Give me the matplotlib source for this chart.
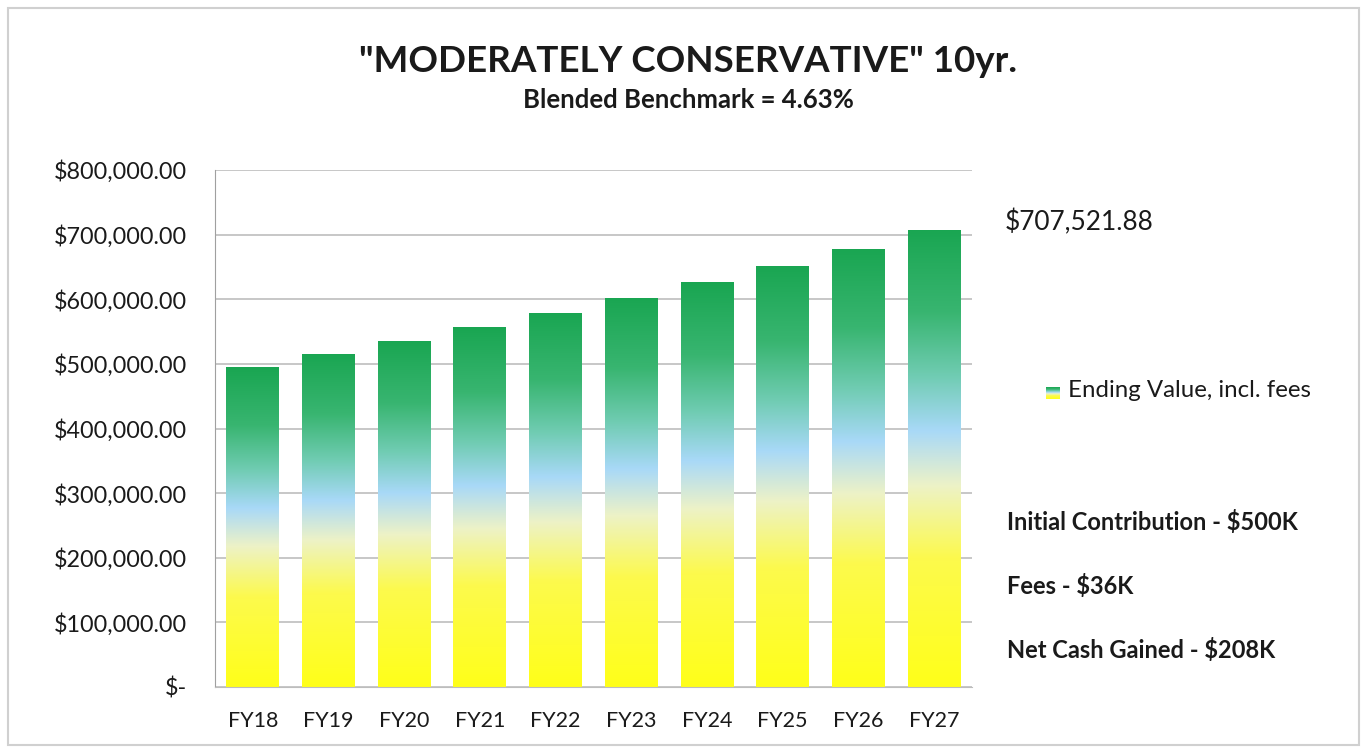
import numpy as np
import matplotlib
matplotlib.use("Agg")
import matplotlib.pyplot as plt
from matplotlib.colors import LinearSegmentedColormap
from matplotlib.patches import Rectangle

categories = ["FY18", "FY19", "FY20", "FY21", "FY22", "FY23", "FY24", "FY25", "FY26", "FY27"]
ending_values = [495000, 515500, 536000, 557000, 579000, 602000, 626000, 651500, 678000, 707521.88]
ytick_values = [0, 100000, 200000, 300000, 400000, 500000, 600000, 700000, 800000]
ytick_labels = ["$-", "$100,000.00", "$200,000.00", "$300,000.00", "$400,000.00",
                "$500,000.00", "$600,000.00", "$700,000.00", "$800,000.00"]
title = '"MODERATELY CONSERVATIVE" 10yr.'
subtitle = "Blended Benchmark = 4.63%"
last_label = "$707,521.88"
legend_label = "Ending Value, incl. fees"
notes = ["Initial Contribution - $500K", "Fees - $36K", "Net Cash Gained - $208K"]

plt.rcParams['font.family'] = ['Lato', 'DejaVu Sans']

fig = plt.figure(figsize=(13.67, 7.47), dpi=100)
W, H = 1367, 747
ax = fig.add_axes([215 / W, 1 - 687 / H, (972 - 215) / W, (687 - 170) / H])

cmap = LinearSegmentedColormap.from_list("grad", [
    (0.00, (1.00, 1.00, 0.10)),
    (0.28, (0.99, 0.98, 0.30)),
    (0.44, (0.93, 0.95, 0.78)),
    (0.56, (0.66, 0.85, 0.97)),
    (0.68, (0.44, 0.80, 0.70)),
    (0.82, (0.22, 0.71, 0.44)),
    (1.00, (0.10, 0.65, 0.32)),
])

x = np.arange(len(categories))
bars = ax.bar(x, ending_values, width=0.7, color='none', edgecolor='none', zorder=2)
grad = np.linspace(0, 1, 256).reshape(-1, 1)
for b in bars:
    x0, y0 = b.get_x(), b.get_y()
    w, h = b.get_width(), b.get_height()
    im = ax.imshow(grad, extent=[x0, x0 + w, y0, y0 + h], origin='lower',
                   cmap=cmap, aspect='auto', zorder=2, interpolation='bilinear')
    im.set_clip_path(b)

ax.set_xlim(-0.5, len(categories) - 0.5)
ax.set_ylim(0, 800000)
ax.set_yticks(ytick_values)
ax.set_yticklabels(ytick_labels)
ax.set_xticks(x)
ax.set_xticklabels(categories)
ax.tick_params(axis='both', length=0, labelsize=16.8, colors='#1a1a1a')
ax.tick_params(axis='y', pad=20)
ax.tick_params(axis='x', labelsize=15.5, pad=17)
ax.yaxis.grid(True, color='#bdbdbd', linewidth=1.2, zorder=0)
ax.set_axisbelow(True)
for s in ['top', 'right']:
    ax.spines[s].set_visible(False)
ax.spines['left'].set_color('#a0a0a0')
ax.spines['bottom'].set_color('#bdbdbd')

fig.text(688 / W, 1 - 62 / H, title, ha='center', va='center', fontsize=26.5, fontweight='bold', color='#1a1a1a')
fig.text(688 / W, 1 - 100 / H, subtitle, ha='center', va='center', fontsize=18.5, fontweight='bold', color='#1a1a1a')

fig.text(1005 / W, 1 - 222 / H, last_label, ha='left', va='center', fontsize=18.9, color='#1a1a1a')

# legend
lax = fig.add_axes([1046 / W, 1 - 399 / H, 14 / W, 12 / H])
lax.imshow(grad, cmap=cmap, origin='lower', aspect='auto', extent=[0, 1, 0, 1])
lax.axis('off')
fig.text(1068 / W, 1 - 391 / H, legend_label, ha='left', va='center', fontsize=17.3, color='#1a1a1a')

for i, n in enumerate(notes):
    fig.text(1007 / W, 1 - (522 + 64 * i) / H, n, ha='left', va='center', fontsize=17, fontweight='bold', color='#1a1a1a')

fig.patches.append(Rectangle((8 / W, 2 / H), (W - 16) / W, (H - 10) / H, transform=fig.transFigure,
                             fill=False, edgecolor='#d0d0d0', linewidth=1.5))

fig.savefig("out.png", dpi=100)
